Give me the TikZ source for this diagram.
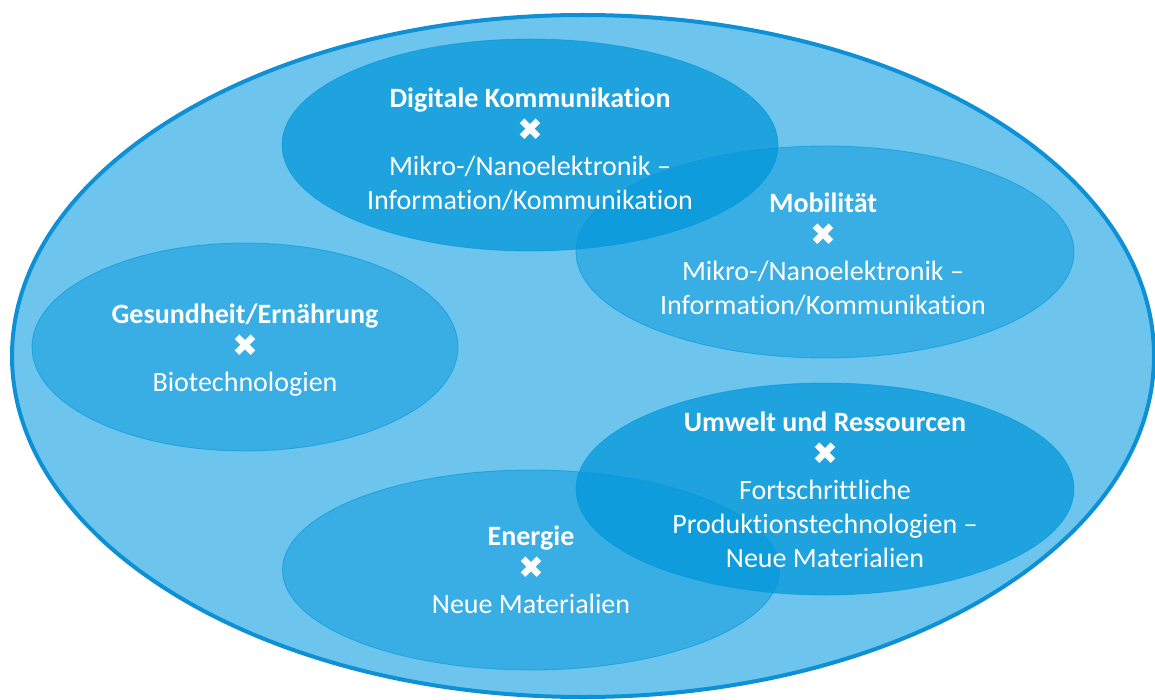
\documentclass[tikz,border=0pt]{standalone}
\usepackage{fontspec}
\setmainfont[Ligatures=NoCommon]{Carlito}
\newfontfamily\symfont{DejaVu Sans}
\usetikzlibrary{shapes.geometric}
\definecolor{outerfill}{HTML}{6DC5EE}
\definecolor{outerline}{HTML}{0E90D6}
\definecolor{innerbase}{HTML}{0096DA}
\tikzset{
  area/.style={ellipse, draw=innerbase, draw opacity=0.6, line width=0.8pt,
    fill=innerbase, inner sep=0pt},
  lightarea/.style={area, fill opacity=0.48},
  strongarea/.style={area, fill opacity=0.72},
  txt/.style={text=white, align=center, inner sep=0pt,
    font=\fontsize{28}{34}\selectfont},
}
\newcommand{\multsign}{\raisebox{1pt}{\symfont\fontsize{31}{34}\selectfont ✖}}
\begin{document}
\begin{tikzpicture}[x=1pt,y=-1pt]
  \useasboundingbox (0,0) rectangle (1155,700);
  % outer ellipse
  \node[ellipse, draw=outerline, line width=4pt, fill=outerfill, inner sep=0pt,
        minimum width=1142pt, minimum height=682pt] (outer) at (583,356) {};
  % inner ellipses
  \node[lightarea, minimum width=426pt, minimum height=208pt] (gesE) at (245,347) {};
  \node[lightarea, minimum width=497pt, minimum height=200pt] (enE) at (531,570) {};
  \node[lightarea, minimum width=498pt, minimum height=212pt] (mobE) at (825,252) {};
  \node[strongarea, minimum width=496pt, minimum height=212pt] (digE) at (530,145) {};
  \node[strongarea, minimum width=498pt, minimum height=212pt] (umwE) at (825,489) {};
  % texts
  \node[txt] (digT) at (530,149) {\textbf{Digitale Kommunikation}\\ \multsign\\ Mikro-/Nanoelektronik --\\ Information/Kommunikation};
  \node[txt] (mobT) at (823,254) {\textbf{Mobilität}\\ \multsign\\ Mikro-/Nanoelektronik --\\ Information/Kommunikation};
  \node[txt] (gesT) at (245,350) {\textbf{Gesundheit/Ernährung}\\ \multsign\\ Biotechnologien};
  \node[txt] (umwT) at (825,490) {\textbf{Umwelt und Ressourcen}\\ \multsign\\ Fortschrittliche\\ Produktionstechnologien --\\ Neue Materialien};
  \node[txt] (enT) at (531,570) {\textbf{Energie}\\ \multsign\\ Neue Materialien};
\end{tikzpicture}
\end{document}
